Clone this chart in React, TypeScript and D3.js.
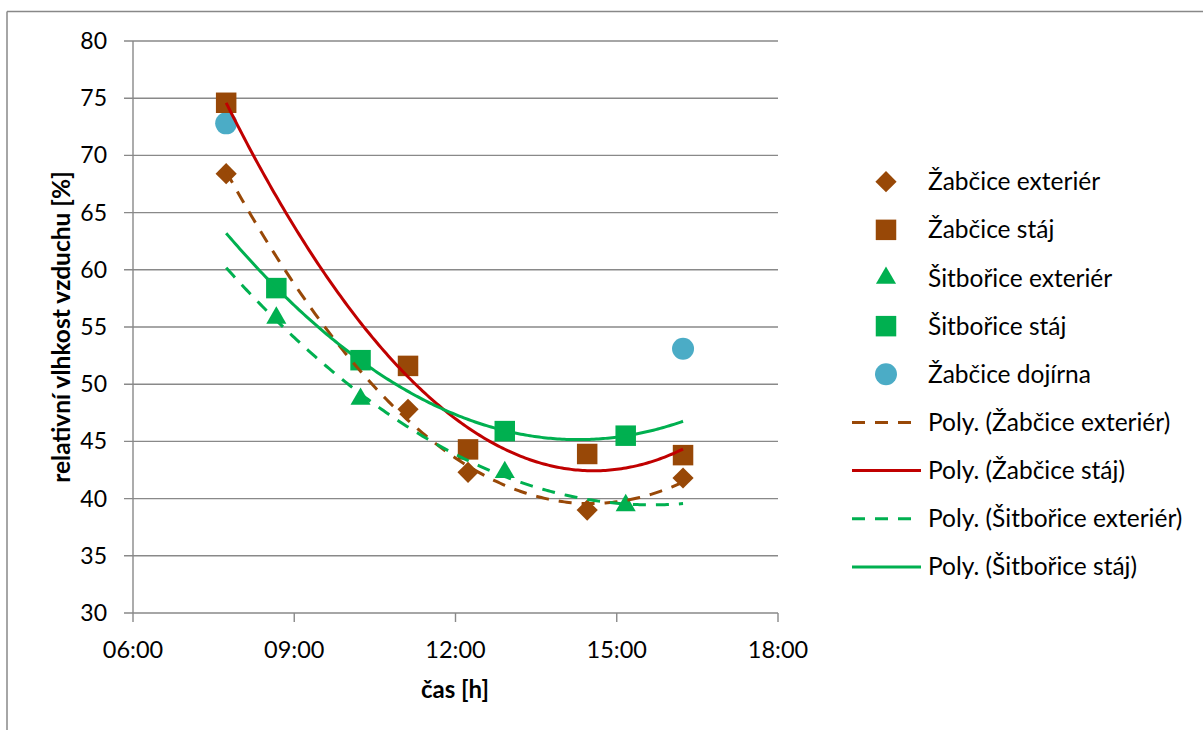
import React from "react";
import * as d3 from "d3";

const xTickLabels = ["06:00", "09:00", "12:00", "15:00", "18:00"];
const yTicks = [30, 35, 40, 45, 50, 55, 60, 65, 70, 75, 80];

const zabcTimes = ["07:44", "11:07", "12:14", "14:27", "16:14"];
const zabcExterier = [68.4, 47.8, 42.3, 39.0, 41.8];
const zabcStaj = [74.6, 51.6, 44.3, 43.9, 43.8];
const sitTimes = ["08:40", "10:14", "12:55", "15:10"];
const sitExterier = [55.8, 48.7, 42.3, 39.4];
const sitStaj = [58.4, 52.1, 45.9, 45.5];
const dojirnaTimes = ["07:44", "16:14"];
const zabcDojirna = [72.8, 53.1];
const trendRange = ["07:44", "16:14"];

const BROWN = "#984807";
const GREEN = "#00B050";
const RED = "#C00000";
const BLUE = "#4BACC6";
const GRID = "#898989";
const FONT = "Lato, 'Open Sans', sans-serif";

const toH = (s: string) => {
  const [h, m] = s.split(":").map(Number);
  return h + m / 60;
};

function polyFit2(xs: number[], ys: number[]) {
  // least squares quadratic fit (centered at 12)
  const t = xs.map((x) => x - 12);
  const n = t.length;
  let s1 = 0, s2 = 0, s3 = 0, s4 = 0, sy = 0, sty = 0, st2y = 0;
  for (let i = 0; i < n; i++) {
    const a = t[i], y = ys[i];
    s1 += a; s2 += a * a; s3 += a * a * a; s4 += a * a * a * a;
    sy += y; sty += a * y; st2y += a * a * y;
  }
  const M = [
    [n, s1, s2, sy],
    [s1, s2, s3, sty],
    [s2, s3, s4, st2y],
  ];
  for (let i = 0; i < 3; i++) {
    for (let k = i + 1; k < 3; k++) {
      const f = M[k][i] / M[i][i];
      for (let j = i; j < 4; j++) M[k][j] -= f * M[i][j];
    }
  }
  const c = [0, 0, 0];
  for (let i = 2; i >= 0; i--) {
    let s = M[i][3];
    for (let j = i + 1; j < 3; j++) s -= M[i][j] * c[j];
    c[i] = s / M[i][i];
  }
  return (x: number) => c[0] + c[1] * (x - 12) + c[2] * (x - 12) * (x - 12);
}

const W = 1203, H = 730;
const plot = { left: 133, right: 778, top: 41, bottom: 613 };

export default function App() {
  const x = d3.scaleLinear().domain([6, 18]).range([plot.left, plot.right]);
  const y = d3.scaleLinear().domain([30, 80]).range([plot.bottom, plot.top]);

  const line = d3
    .line<[number, number]>()
    .x((d) => x(d[0]))
    .y((d) => y(d[1]))
    .curve(d3.curveLinear);

  const [t0, t1] = trendRange.map(toH);
  const samples = d3.range(0, 201).map((i) => t0 + ((t1 - t0) * i) / 200);
  const trend = (times: string[], vals: number[]) => {
    const f = polyFit2(times.map(toH), vals);
    return line(samples.map((s) => [s, f(s)] as [number, number])) || "";
  };

  const sq = d3.symbol().type(d3.symbolSquare).size(20.5 * 20.5)() || "";
  const dia = d3.symbol().type(d3.symbolSquare).size(15 * 15)() || "";
  const tri = d3.symbol().type(d3.symbolTriangle).size(175)() || "";
  const circ = d3.symbol().type(d3.symbolCircle).size(Math.PI * 11 * 11)() || "";

  const dash = "13 10";

  const legendItems = [
    { label: "Žabčice exteriér", kind: "marker", path: dia, rot: 45, color: BROWN },
    { label: "Žabčice stáj", kind: "marker", path: sq, rot: 0, color: BROWN },
    { label: "Šitbořice exteriér", kind: "marker", path: tri, rot: 0, color: GREEN },
    { label: "Šitbořice stáj", kind: "marker", path: sq, rot: 0, color: GREEN },
    { label: "Žabčice dojírna", kind: "marker", path: circ, rot: 0, color: BLUE },
    { label: "Poly. (Žabčice exteriér)", kind: "line", dash: dash, color: BROWN },
    { label: "Poly. (Žabčice stáj)", kind: "line", dash: "", color: RED },
    { label: "Poly. (Šitbořice exteriér)", kind: "line", dash: dash, color: GREEN },
    { label: "Poly. (Šitbořice stáj)", kind: "line", dash: "", color: GREEN },
  ];

  const markers = (
    times: string[],
    vals: number[],
    path: string,
    color: string,
    rot = 0
  ) =>
    times.map((t, i) => (
      <path
        key={t + i}
        d={path}
        fill={color}
        transform={`translate(${x(toH(t))},${y(vals[i])}) rotate(${rot})`}
      />
    ));

  return (
    <svg width={W} height={H} style={{ display: "block", position: "absolute", left: 0, top: 0 }}>
      <rect x={0} y={0} width={W} height={H} fill="#fff" />
      {/* chart border */}
      <line x1={7} y1={11.5} x2={W} y2={11.5} stroke="#888" strokeWidth={1.5} />
      <line x1={7} y1={11.5} x2={7} y2={H} stroke="#888" strokeWidth={1.5} />

      {/* gridlines and y ticks */}
      {yTicks.map((v) => (
        <g key={v}>
          <line x1={plot.left - 9} x2={plot.right} y1={y(v)} y2={y(v)} stroke={GRID} strokeWidth={1.4} />
          <text
            x={107}
            y={y(v)}
            dy="0.35em"
            textAnchor="end"
            fontFamily={FONT}
            fontSize={23}
            fill="#000"
          >
            {v}
          </text>
        </g>
      ))}
      {/* axes */}
      <line x1={plot.left} x2={plot.left} y1={plot.top} y2={plot.bottom} stroke={GRID} strokeWidth={1.4} />
      {xTickLabels.map((lab) => {
        const px = x(toH(lab));
        return (
          <g key={lab}>
            <line x1={px} x2={px} y1={plot.bottom} y2={plot.bottom + 9} stroke={GRID} strokeWidth={1.4} />
            <text x={px} y={650} dy="0.35em" textAnchor="middle" fontFamily={FONT} fontSize={23.5} fill="#000">
              {lab}
            </text>
          </g>
        );
      })}

      {/* axis titles */}
      <text
        transform={`translate(61,${(plot.top + plot.bottom) / 2}) rotate(-90)`}
        textAnchor="middle"
        dy="0.35em"
        fontFamily={FONT}
        fontWeight="bold"
        fontSize={24.5}
        fill="#000"
      >
        relativní vlhkost vzduchu [%]
      </text>
      <text x={455} y={690} dy="0.35em" textAnchor="middle" fontFamily={FONT} fontWeight="bold" fontSize={24} fill="#000">
        čas [h]
      </text>

      {/* markers */}
      {markers(dojirnaTimes, zabcDojirna, circ, BLUE)}
      {markers(zabcTimes, zabcExterier, dia, BROWN, 45)}
      {markers(zabcTimes, zabcStaj, sq, BROWN)}
      {markers(sitTimes, sitExterier, tri, GREEN)}
      {markers(sitTimes, sitStaj, sq, GREEN)}

      {/* trendlines */}
      <path d={trend(zabcTimes, zabcExterier)} fill="none" stroke={BROWN} strokeWidth={3} strokeDasharray={dash} />
      <path d={trend(zabcTimes, zabcStaj)} fill="none" stroke={RED} strokeWidth={3} />
      <path d={trend(sitTimes, sitExterier)} fill="none" stroke={GREEN} strokeWidth={3} strokeDasharray={dash} />
      <path d={trend(sitTimes, sitStaj)} fill="none" stroke={GREEN} strokeWidth={3} />

      {/* legend */}
      {legendItems.map((it, i) => {
        const cy = 181.7 + i * 48.15;
        return (
          <g key={it.label}>
            {it.kind === "marker" ? (
              <path d={it.path} fill={it.color} transform={`translate(886,${cy}) rotate(${it.rot})`} />
            ) : (
              <line
                x1={852}
                x2={921}
                y1={cy}
                y2={cy}
                stroke={it.color}
                strokeWidth={3}
                strokeDasharray={it.dash || undefined}
              />
            )}
            <text x={928} y={cy} dy="0.35em" fontFamily={FONT} fontSize={24.5} fill="#000">
              {it.label}
            </text>
          </g>
        );
      })}
    </svg>
  );
}
